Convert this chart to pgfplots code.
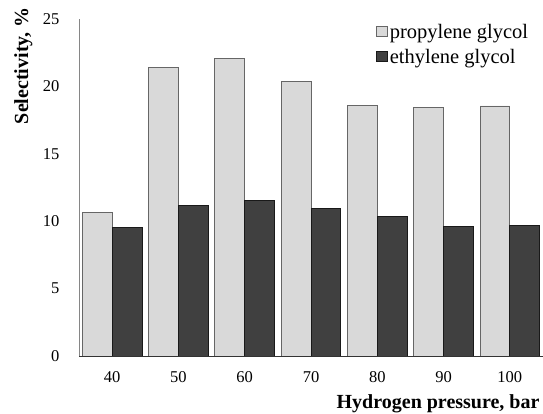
\documentclass[border=0pt]{standalone}
\usepackage{pgfplots}
\pgfplotsset{compat=1.18}
\usepackage{fontspec}
\setmainfont{Liberation Serif}
\definecolor{lightbar}{HTML}{D9D9D9}
\definecolor{darkbar}{HTML}{404040}
\definecolor{axisgray}{HTML}{868686}
\begin{document}
\begin{tikzpicture}[x=1pt,y=1pt]
\useasboundingbox (0,0) rectangle (543,414);
\begin{axis}[
  at={(79pt,58pt)}, anchor=south west,
  scale only axis, width=464pt, height=337pt,
  ybar=0pt, bar width=0.45,
  xmin=-0.5, xmax=6.5, ymin=0, ymax=25,
  xtick=data, xticklabels={40,50,60,70,80,90,100},
  ytick={0,5,10,15,20,25},
  axis x line=bottom, axis y line=left,
  axis line style={-, draw=axisgray, line width=0.8pt},
  x axis line style={draw=black!80},
  major tick length=0pt,
  tick label style={font=\fontsize{16.5}{19}\selectfont},
  /pgf/number format/assume math mode=true,
  yticklabel style={xshift=-16pt},
  xticklabel style={yshift=-12pt},
  xlabel={\textbf{Hydrogen pressure, bar}},
  ylabel={\textbf{Selectivity, \%}},
  label style={font=\fontsize{20}{23}\selectfont},
  xlabel style={at={(axis description cs:1,-0.142)}, anchor=east},
  ylabel style={at={(axis description cs:-0.12,1.045)}, anchor=east, rotate=0},
  legend style={at={(axis description cs:0.64,0.99)}, anchor=north west, draw=none, fill=none,
    font=\fontsize{20.5}{24}\selectfont, row sep=5pt, inner sep=0pt,
    /tikz/every even column/.append style={column sep=2pt}},
  legend cell align=left,
  legend image code/.code={\draw[#1, line width=0.6pt] (0pt,-4pt) rectangle (11pt,6pt);},
]
\addplot[fill=lightbar, draw=black!60, line width=0.8pt] coordinates {(0,10.62) (1,21.4) (2,22.05) (3,20.4) (4,18.6) (5,18.47) (6,18.55)};
\addplot[fill=darkbar, draw=black!90, line width=0.8pt] coordinates {(0,9.52) (1,11.14) (2,11.51) (3,10.94) (4,10.32) (5,9.58) (6,9.67)};
\legend{propylene glycol, ethylene glycol}
\end{axis}
\end{tikzpicture}
\end{document}
